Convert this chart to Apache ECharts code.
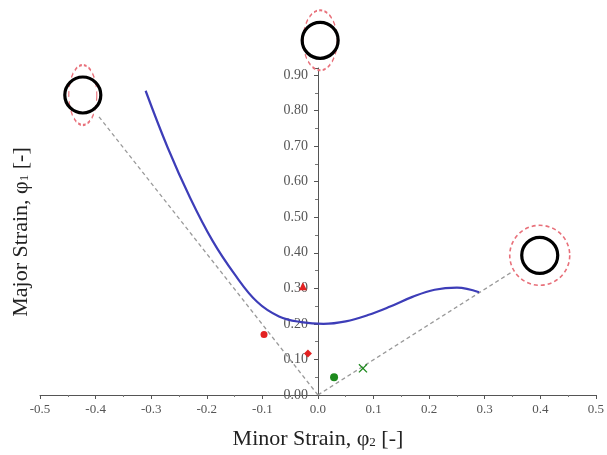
<!DOCTYPE html>
<html>
<head>
<meta charset="utf-8">
<script src="https://cdn.jsdelivr.net/npm/echarts@6/dist/echarts.min.js"></script>
<style>
  html, body { margin: 0; padding: 0; background: #fff; }
  #chart { width: 607px; height: 455px; }
</style>
</head>
<body>
<div id="chart"></div>
<script>
// Forming limit curve (minor strain vs major strain)
const curveMinor = [-0.31, -0.27, -0.23, -0.19, -0.15, -0.11, -0.07, -0.03, 0.01, 0.05, 0.09, 0.13, 0.17, 0.21, 0.25, 0.29];
const curveMajor = [0.856, 0.695, 0.555, 0.435, 0.340, 0.263, 0.221, 0.205, 0.200, 0.207, 0.225, 0.249, 0.276, 0.296, 0.302, 0.289];

// Strain paths from the origin (deep drawing / biaxial stretching)
const pathLeft = [[0, 0], [-0.394, 0.783]];
const pathRight = [[0, 0], [0.351, 0.348]];

// Measured points
const redCircle = [[-0.097, 0.170]];
const redDiamond = [[-0.018, 0.117]];
const redTriangle = [[-0.027, 0.306]];
const greenCircle = [[0.029, 0.050]];
const greenCross = [[0.081, 0.075]];

// Deformed-grid glyphs: [minor, major] position of each sketch
const glyphLeft = [-0.423, 0.844];
const glyphTop = [0.004, 0.998];
const glyphRight = [0.399, 0.393];

const xTicks = { min: -0.5, max: 0.5, step: 0.1 };
const yTicks = { min: 0, max: 0.92, step: 0.1 };

const serif = '"Liberation Serif", "DejaVu Serif", serif';
const gridLeft = 40, gridRight = 11;
const plotWidth = 607 - gridLeft - gridRight;
// pixel distance from the grid's left edge to minor strain = 0
const zeroOffset = plotWidth * (0 - xTicks.min) / (xTicks.max - xTicks.min);

const chart = echarts.init(document.getElementById('chart'), null, { renderer: 'canvas' });

const ellipse = (pos, size) => ({
  type: 'scatter', data: [pos], symbol: 'circle', symbolSize: size, clip: false, silent: true, z: 3,
  itemStyle: { color: 'rgba(0,0,0,0)', borderColor: '#e8707a', borderWidth: 1.6, borderType: [4, 3], opacity: 1 }
});
const ring = (pos) => ({
  type: 'scatter', data: [pos], symbol: 'circle', symbolSize: 36, clip: false, silent: true, z: 4,
  itemStyle: { color: 'rgba(0,0,0,0)', borderColor: '#000', borderWidth: 3.2, opacity: 1 }
});
const dashed = (data) => ({
  type: 'line', data: data, symbol: 'none', silent: true, z: 2,
  lineStyle: { color: '#9a9a9a', width: 1.3, type: [4, 3] }
});
const marker = (data, symbol, size, color) => ({
  type: 'scatter', data: data, symbol: symbol, symbolSize: size, z: 6,
  itemStyle: { color: color, opacity: 1 }
});

chart.setOption({
  animation: false,
  grid: { left: gridLeft, right: gridRight, top: 68, bottom: 57 },
  xAxis: {
    type: 'value', min: xTicks.min, max: xTicks.max, interval: xTicks.step,
    name: 'Minor Strain, φ{s|2} [-]', nameLocation: 'middle', nameGap: 33,
    nameTextStyle: { fontFamily: serif, fontSize: 22, color: '#222', rich: { s: { fontFamily: serif, fontSize: 13, color: '#222', padding: [8, 0, 0, 0] } } },
    axisLine: { lineStyle: { color: '#555', width: 1 } },
    axisTick: { length: 4, lineStyle: { color: '#555' } },
    minorTick: { show: true, splitNumber: 2, length: 2, lineStyle: { color: '#777' } },
    splitLine: { show: false },
    axisLabel: { fontFamily: serif, fontSize: 13, color: '#555', margin: 8, formatter: v => v.toFixed(1) }
  },
  yAxis: {
    type: 'value', min: yTicks.min, max: yTicks.max, interval: yTicks.step,
    position: 'left', offset: -zeroOffset,
    axisLine: { onZero: false, lineStyle: { color: '#555', width: 1 } },
    axisTick: { length: 4, lineStyle: { color: '#555' } },
    minorTick: { show: true, splitNumber: 2, length: 3, lineStyle: { color: '#777' } },
    splitLine: { show: false },
    axisLabel: {
      fontFamily: serif, fontSize: 14, color: '#555', margin: 10, showMaxLabel: false,
      formatter: v => (Math.abs(v * 10 - Math.round(v * 10)) > 1e-6 ? '' : v.toFixed(2))
    }
  },
  graphic: [{
    type: 'text', x: 21, y: 232, rotation: Math.PI / 2,
    style: {
      text: 'Major Strain, φ{s|1} [-]', fill: '#222', font: '22px ' + serif,
      align: 'center', verticalAlign: 'middle',
      rich: { s: { fontFamily: serif, fontSize: 13, fill: '#222', padding: [8, 0, 0, 0] } }
    }
  }],
  series: [
    dashed(pathLeft),
    dashed(pathRight),
    {
      type: 'line', data: curveMinor.map((x, i) => [x, curveMajor[i]]),
      smooth: 0.4, symbol: 'none', z: 5,
      lineStyle: { color: '#3d3db8', width: 2.2 }
    },
    marker(redCircle, 'circle', 7, '#e32222'),
    marker(redDiamond, 'diamond', 8, '#e32222'),
    marker(redTriangle, 'triangle', 8, '#e32222'),
    marker(greenCircle, 'circle', 8, '#1d8a1d'),
    marker(greenCross, 'path://M0,1L1,0L5,4L9,0L10,1L6,5L10,9L9,10L5,6L1,10L0,9L4,5Z', 9, '#1d8a1d'),
    ellipse(glyphLeft, [28, 60]),
    ellipse(glyphTop, [34, 60]),
    ellipse(glyphRight, [60, 60]),
    ring(glyphLeft),
    ring(glyphTop),
    ring(glyphRight)
  ]
});
</script>
</body>
</html>
